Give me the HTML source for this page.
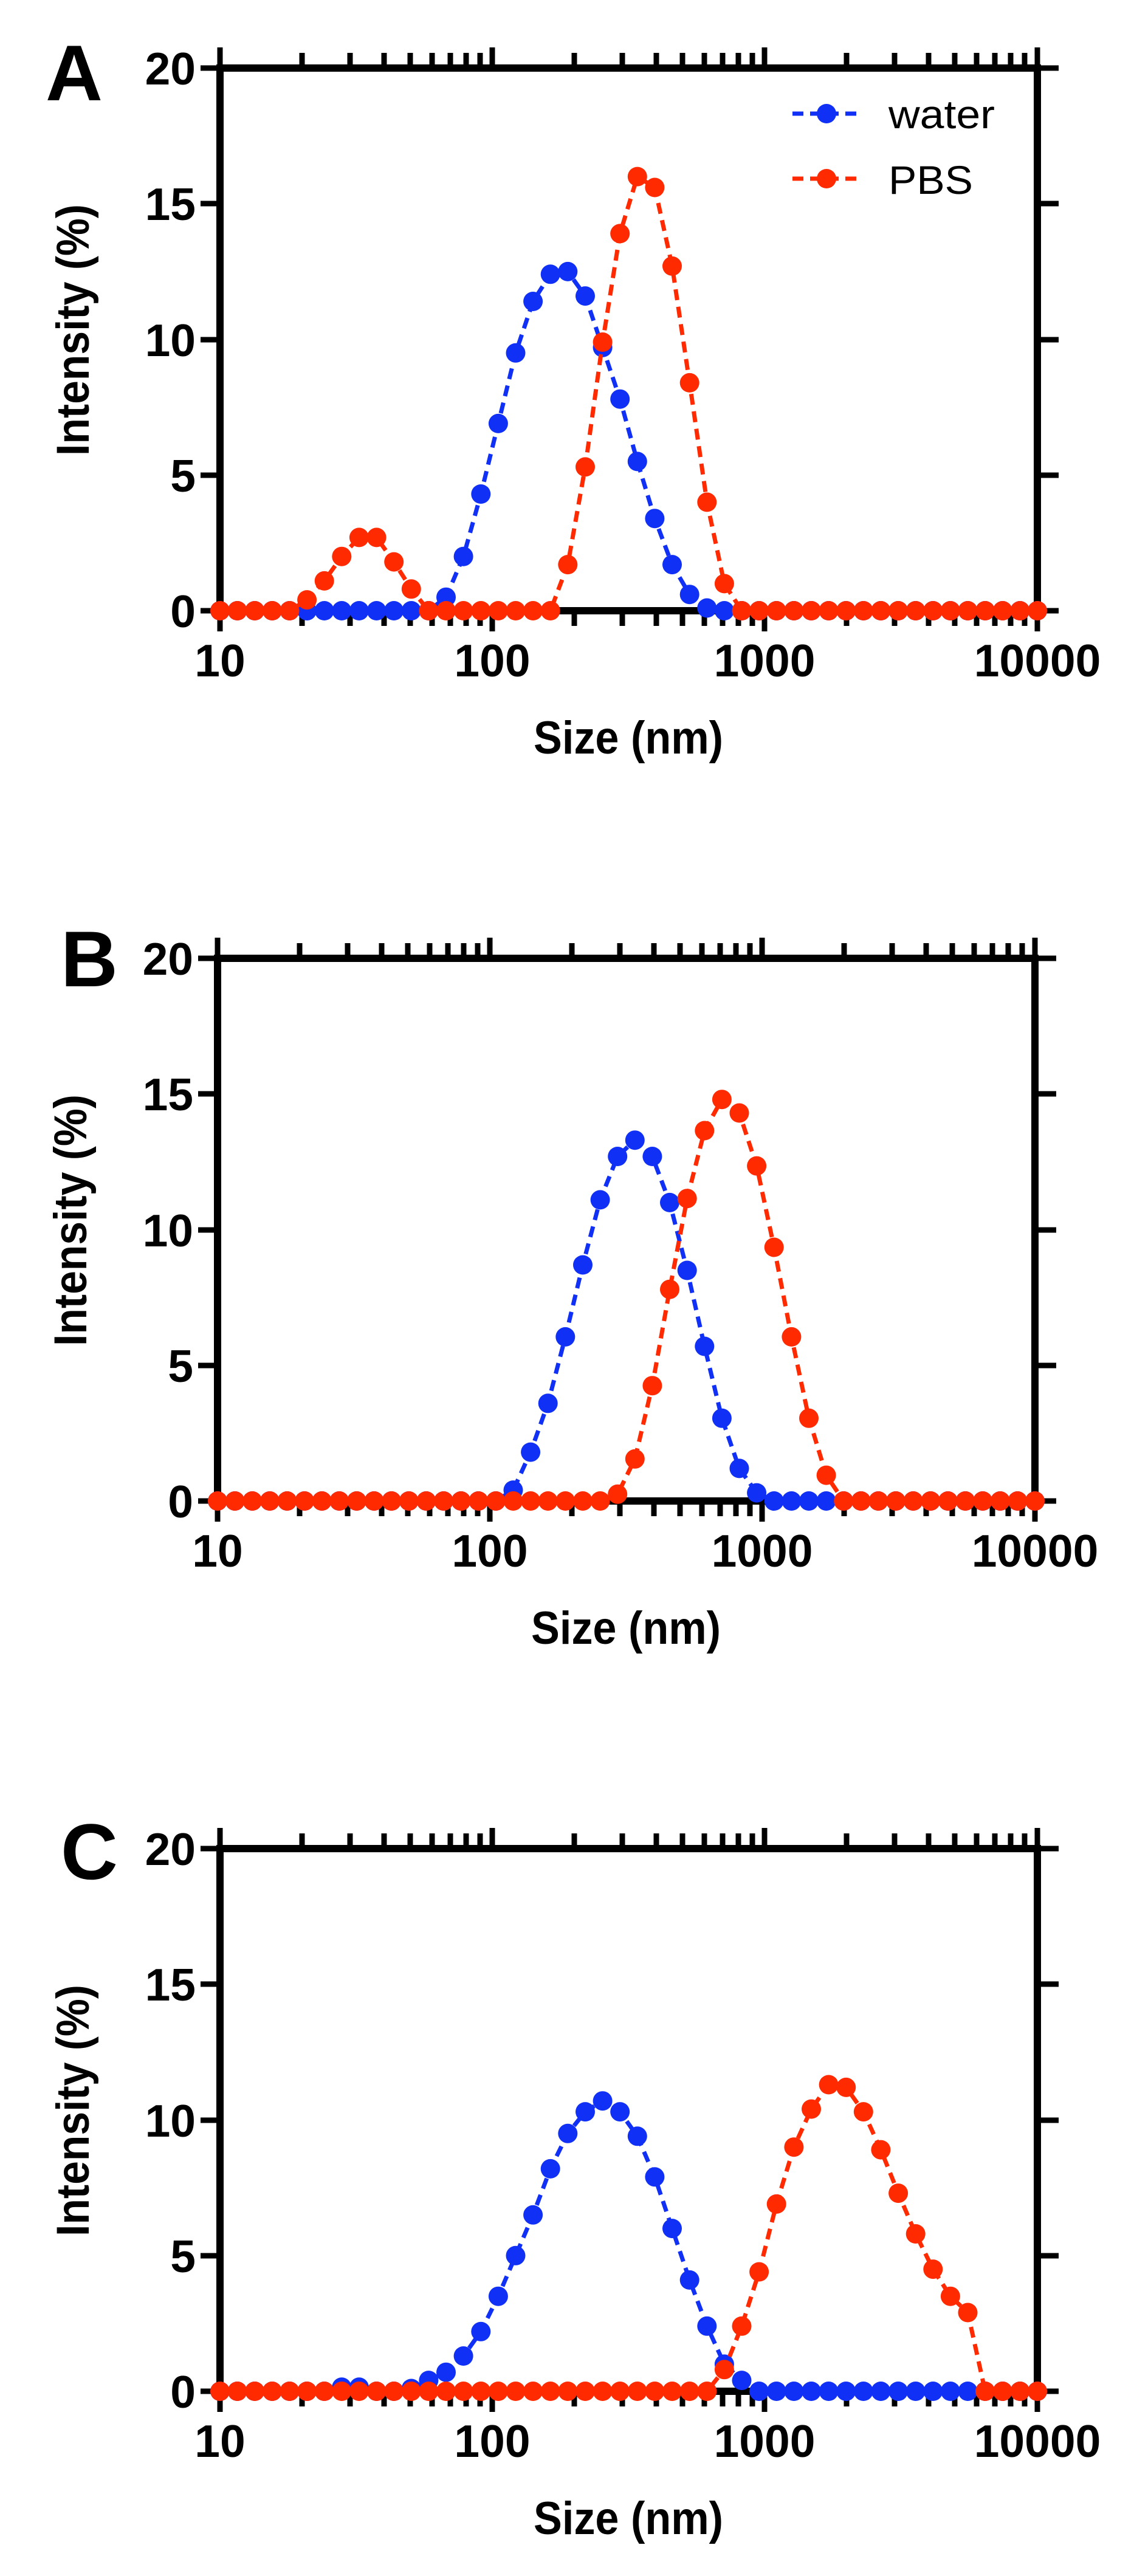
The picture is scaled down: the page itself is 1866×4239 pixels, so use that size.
<!DOCTYPE html>
<html><head><meta charset="utf-8"><style>
html,body{margin:0;padding:0;background:#fff;}
svg{display:block;}
text{font-family:"Liberation Sans",Arial,sans-serif;fill:#000;}
.b{font-weight:bold;}
</style></head><body>
<svg width="1866" height="4239" viewBox="0 0 1866 4239" xmlns="http://www.w3.org/2000/svg">
<defs>
<marker id="mb" markerUnits="userSpaceOnUse" markerWidth="40" markerHeight="40" refX="20" refY="20" overflow="visible"><circle cx="20" cy="20" r="16" fill="#1030f5"/></marker>
<marker id="mr" markerUnits="userSpaceOnUse" markerWidth="40" markerHeight="40" refX="20" refY="20" overflow="visible"><circle cx="20" cy="20" r="16" fill="#ff2a00"/></marker>
<g id="ax" stroke="#000" fill="none" stroke-linecap="butt">
<rect x="0" y="0" width="1345" height="893" stroke-width="12"/>
<path stroke-width="9" d="M0 0V-34M448 0V-34M896 0V-34M1345 0V-34M0 893V927M448 893V927M896 893V927M1345 893V927
M135 0v-25M214 0v-25M270 0v-25M313 0v-25M349 0v-25M379 0v-25M405 0v-25M428 0v-25
M583 0v-25M662 0v-25M718 0v-25M761 0v-25M797 0v-25M827 0v-25M853 0v-25M876 0v-25
M1031 0v-25M1110 0v-25M1166 0v-25M1209 0v-25M1245 0v-25M1275 0v-25M1301 0v-25M1324 0v-25
M135 893v25M214 893v25M270 893v25M313 893v25M349 893v25M379 893v25M405 893v25M428 893v25
M583 893v25M662 893v25M718 893v25M761 893v25M797 893v25M827 893v25M853 893v25M876 893v25
M1031 893v25M1110 893v25M1166 893v25M1209 893v25M1245 893v25M1275 893v25M1301 893v25M1324 893v25
M0 0h-32M0 223h-32M0 447h-32M0 670h-32M0 893h-32
M1345 0h35M1345 223h35M1345 447h35M1345 670h35M1345 893h35"/>
</g>
</defs>

<!-- Panel A -->
<g transform="translate(362,112)">
<use href="#ax"/>
<g fill="none" stroke-width="7" stroke-dasharray="18 11">
<polyline stroke="#1030f5" marker-start="url(#mb)" marker-mid="url(#mb)" marker-end="url(#mb)" points="0,893 28.6,893 57.2,893 85.9,893 114.5,893 143.1,893 171.7,893 200.3,893 228.9,893 257.6,893 286.2,893 314.8,893 343.4,893 372,870.7 400.6,803.7 429.3,701 457.9,584.9 486.5,468.8 515.1,384 543.7,339.3 572.3,334.9 601,375.1 629.6,459.9 658.2,544.7 686.8,647.4 715.4,741.2 744,817.1 772.7,866.2 801.3,888.5 829.9,893 858.5,893 887.1,893 915.7,893 944.4,893 973,893 1001.6,893 1030.2,893 1058.8,893 1087.4,893 1116.1,893 1144.7,893 1173.3,893 1201.9,893 1230.5,893 1259.1,893 1287.8,893 1316.4,893 1345,893"/>
<polyline stroke="#ff2a00" marker-start="url(#mr)" marker-mid="url(#mr)" marker-end="url(#mr)" points="0,893 28.6,893 57.2,893 85.9,893 114.5,893 143.1,875.1 171.7,843.9 200.3,803.7 228.9,772.4 257.6,772.4 286.2,812.6 314.8,857.3 343.4,893 372,893 400.6,893 429.3,893 457.9,893 486.5,893 515.1,893 543.7,893 572.3,817.1 601,656.4 629.6,451 658.2,272.4 686.8,178.6 715.4,196.5 744,325.9 772.7,517.9 801.3,714.4 829.9,848.4 858.5,893 887.1,893 915.7,893 944.4,893 973,893 1001.6,893 1030.2,893 1058.8,893 1087.4,893 1116.1,893 1144.7,893 1173.3,893 1201.9,893 1230.5,893 1259.1,893 1287.8,893 1316.4,893 1345,893"/>
</g>
</g>
<text class="b" x="75" y="165" font-size="130">A</text>
<g class="b" font-size="75" text-anchor="end">
<text x="322" y="139">20</text><text x="322" y="362">15</text><text x="322" y="586">10</text><text x="322" y="809">5</text><text x="322" y="1032">0</text>
</g>
<g class="b" font-size="75" text-anchor="middle">
<text x="362" y="1113">10</text><text x="810" y="1113">100</text><text x="1258" y="1113">1000</text><text x="1707" y="1113">10000</text>
</g>
<text class="b" x="1034" y="1240" font-size="76" text-anchor="middle" textLength="312" lengthAdjust="spacingAndGlyphs">Size (nm)</text>
<text class="b" transform="translate(146,543) rotate(-90)" font-size="76" text-anchor="middle" textLength="414" lengthAdjust="spacingAndGlyphs">Intensity (%)</text>
<!-- legend -->
<g fill="none" stroke-width="7" stroke-dasharray="18 11">
<line x1="1304" y1="187" x2="1417" y2="187" stroke="#1030f5"/>
<line x1="1304" y1="294" x2="1417" y2="294" stroke="#ff2a00"/>
</g>
<circle cx="1360" cy="187" r="16" fill="#1030f5"/>
<circle cx="1360" cy="294" r="16" fill="#ff2a00"/>
<text x="1462" y="211" font-size="66" textLength="175" lengthAdjust="spacingAndGlyphs">water</text>
<text x="1462" y="319" font-size="66" textLength="139" lengthAdjust="spacingAndGlyphs">PBS</text>

<!-- Panel B -->
<g transform="translate(358,1577)">
<use href="#ax"/>
<g fill="none" stroke-width="7" stroke-dasharray="18 11">
<polyline stroke="#1030f5" marker-start="url(#mb)" marker-mid="url(#mb)" marker-end="url(#mb)" points="0,893 28.6,893 57.2,893 85.9,893 114.5,893 143.1,893 171.7,893 200.3,893 228.9,893 257.6,893 286.2,893 314.8,893 343.4,893 372,893 400.6,893 429.3,893 457.9,893 486.5,875.1 515.1,812.6 543.7,732.3 572.3,622.9 601,504.5 629.6,397.4 658.2,326 686.8,299.2 715.4,326 744,401.9 772.7,513.5 801.3,638.5 829.9,756.8 858.5,839.4 887.1,879.6 915.7,893 944.4,893 973,893 1001.6,893 1030.2,893 1058.8,893 1087.4,893 1116.1,893 1144.7,893 1173.3,893 1201.9,893 1230.5,893 1259.1,893 1287.8,893 1316.4,893 1345,893"/>
<polyline stroke="#ff2a00" marker-start="url(#mr)" marker-mid="url(#mr)" marker-end="url(#mr)" points="0,893 28.6,893 57.2,893 85.9,893 114.5,893 143.1,893 171.7,893 200.3,893 228.9,893 257.6,893 286.2,893 314.8,893 343.4,893 372,893 400.6,893 429.3,893 457.9,893 486.5,893 515.1,893 543.7,893 572.3,893 601,893 629.6,893 658.2,881.8 686.8,823.8 715.4,703.2 744,544.7 772.7,395.2 801.3,283.5 829.9,232.2 858.5,254.5 887.1,341.6 915.7,475.5 944.4,622.9 973,756.8 1001.6,850.6 1030.2,893 1058.8,893 1087.4,893 1116.1,893 1144.7,893 1173.3,893 1201.9,893 1230.5,893 1259.1,893 1287.8,893 1316.4,893 1345,893"/>
</g>
</g>
<text class="b" x="100" y="1623" font-size="130">B</text>
<g class="b" font-size="75" text-anchor="end">
<text x="318" y="1604">20</text><text x="318" y="1827">15</text><text x="318" y="2051">10</text><text x="318" y="2274">5</text><text x="318" y="2497">0</text>
</g>
<g class="b" font-size="75" text-anchor="middle">
<text x="358" y="2578">10</text><text x="806" y="2578">100</text><text x="1254" y="2578">1000</text><text x="1703" y="2578">10000</text>
</g>
<text class="b" x="1030" y="2705" font-size="76" text-anchor="middle" textLength="312" lengthAdjust="spacingAndGlyphs">Size (nm)</text>
<text class="b" transform="translate(142,2008) rotate(-90)" font-size="76" text-anchor="middle" textLength="414" lengthAdjust="spacingAndGlyphs">Intensity (%)</text>

<!-- Panel C -->
<g transform="translate(362,3042)">
<use href="#ax"/>
<g fill="none" stroke-width="7" stroke-dasharray="18 11">
<polyline stroke="#1030f5" marker-start="url(#mb)" marker-mid="url(#mb)" marker-end="url(#mb)" points="0,893 28.6,893 57.2,893 85.9,893 114.5,893 143.1,893 171.7,893 200.3,886.3 228.9,886.3 257.6,893 286.2,893 314.8,888.5 343.4,875.1 372,861.7 400.6,835 429.3,794.8 457.9,736.7 486.5,669.8 515.1,602.8 543.7,526.9 572.3,468.8 601,433.1 629.6,415.2 658.2,433.1 686.8,473.3 715.4,540.3 744,625.1 772.7,709.9 801.3,785.8 829.9,848.4 858.5,875.1 887.1,893 915.7,893 944.4,893 973,893 1001.6,893 1030.2,893 1058.8,893 1087.4,893 1116.1,893 1144.7,893 1173.3,893 1201.9,893 1230.5,893 1259.1,893 1287.8,893 1316.4,893 1345,893"/>
<polyline stroke="#ff2a00" marker-start="url(#mr)" marker-mid="url(#mr)" marker-end="url(#mr)" points="0,893 28.6,893 57.2,893 85.9,893 114.5,893 143.1,893 171.7,893 200.3,893 228.9,893 257.6,893 286.2,893 314.8,893 343.4,893 372,893 400.6,893 429.3,893 457.9,893 486.5,893 515.1,893 543.7,893 572.3,893 601,893 629.6,893 658.2,893 686.8,893 715.4,893 744,893 772.7,893 801.3,893 829.9,857.3 858.5,785.8 887.1,696.5 915.7,584.9 944.4,491.2 973,428.6 1001.6,388.5 1030.2,392.9 1058.8,433.1 1087.4,495.6 1116.1,567.1 1144.7,634 1173.3,692.1 1201.9,736.7 1230.5,763.5 1259.1,893 1287.8,893 1316.4,893 1345,893"/>
</g>
</g>
<text class="b" x="100" y="3092" font-size="130">C</text>
<g class="b" font-size="75" text-anchor="end">
<text x="322" y="3069">20</text><text x="322" y="3292">15</text><text x="322" y="3516">10</text><text x="322" y="3739">5</text><text x="322" y="3962">0</text>
</g>
<g class="b" font-size="75" text-anchor="middle">
<text x="362" y="4043">10</text><text x="810" y="4043">100</text><text x="1258" y="4043">1000</text><text x="1707" y="4043">10000</text>
</g>
<text class="b" x="1034" y="4170" font-size="76" text-anchor="middle" textLength="312" lengthAdjust="spacingAndGlyphs">Size (nm)</text>
<text class="b" transform="translate(146,3473) rotate(-90)" font-size="76" text-anchor="middle" textLength="414" lengthAdjust="spacingAndGlyphs">Intensity (%)</text>
</svg>
</body></html>
